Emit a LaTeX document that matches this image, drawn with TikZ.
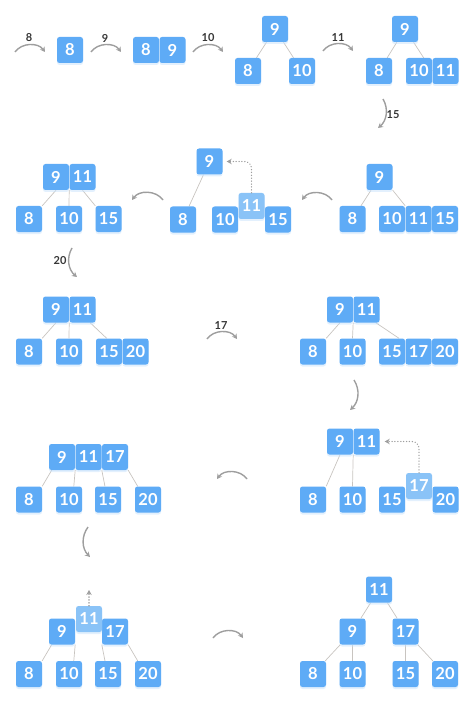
\documentclass[tikz,border=0pt]{standalone}
\usepackage{fontspec}
\setmainfont{Lato}
\usetikzlibrary{arrows.meta,backgrounds,shadows}
\definecolor{keyblue}{RGB}{94,171,246}
\definecolor{keylight}{RGB}{138,195,247}
\definecolor{arcgray}{RGB}{158,158,158}
\definecolor{linkgray}{RGB}{200,196,192}
\definecolor{lblgray}{RGB}{55,55,55}
\tikzset{
  key/.style={fill=keyblue, rounded corners=2.5pt, minimum width=26pt, minimum height=26pt,
    inner sep=0pt, text=white, font=\fontsize{16.5}{16.5}\selectfont\bfseries,
    drop shadow={shadow xshift=0pt, shadow yshift=-2pt, fill=keyblue!35, opacity=0.5}},
  keyup/.style={fill=keylight},
  link/.style={color=linkgray, line width=0.7pt},
  turn/.style={color=arcgray, line width=1.4pt, -{Stealth[length=5pt,width=5.5pt]}},
  hop/.style={color=arcgray, line width=1.4pt, dash pattern=on 0.1pt off 2.8pt, line cap=round,
    rounded corners=7pt, -{Stealth[length=5pt,width=5.5pt]}},
  lbl/.style={text=lblgray, font=\fontsize{11}{11}\selectfont\bfseries}
}
\begin{document}
\begin{tikzpicture}[x=1pt,y=-1pt]
  \useasboundingbox (0,0) rectangle (474,703);
  \draw[every node/.style={key}]
    (70,50) node (a8){8}
    (146,50) node (b8){8}
    (172.5,50) node (b9){9}
    (275,29) node (c9){9}
    (248,71) node (c8){8}
    (302,71) node (c10){10}
    (405,29) node (d9){9}
    (379,71) node (d8){8}
    (419,71) node (d10){10}
    (445.5,71) node (d11){11};
  \draw[every node/.style={key}]
    (379.5,177) node (e9){9}
    (352.5,219) node (e8){8}
    (392,219) node (e10){10}
    (418.5,219) node (e11){11}
    (445,219) node (e15){15}
    (209.5,161.5) node (f9){9}
    (183,219.5) node (f8){8}
    (225,219.5) node (f10){10}
    (278,219.5) node (f15){15}
    (251.5,206) node[keyup] (f11){11}
    (56,177) node (g9){9}
    (82.5,177) node (g11){11}
    (29,219) node (g8){8}
    (69,219) node (g10){10}
    (108.5,219) node (g15){15};
  \draw[every node/.style={key}]
    (56,309.5) node (h9){9}
    (82.5,309.5) node (h11){11}
    (29,351.5) node (h8){8}
    (69,351.5) node (h10){10}
    (109,351.5) node (h15){15}
    (135.5,351.5) node (h20){20}
    (340,309.5) node (i9){9}
    (366.5,309.5) node (i11){11}
    (313,351.5) node (i8){8}
    (352.5,351.5) node (i10){10}
    (392,351.5) node (i15){15}
    (418.5,351.5) node (i17){17}
    (445,351.5) node (i20){20};
  \draw[every node/.style={key}]
    (340,441.5) node (j9){9}
    (366.5,441.5) node (j11){11}
    (313,499.5) node (j8){8}
    (352.5,499.5) node (j10){10}
    (392,499.5) node (j15){15}
    (445.5,499.5) node (j20){20}
    (419,486) node[keyup] (j17){17}
    (62,457) node (k9){9}
    (88.5,457) node (k11){11}
    (115,457) node (k17){17}
    (29,499.5) node (k8){8}
    (69,499.5) node (k10){10}
    (108,499.5) node (k15){15}
    (148,499.5) node (k20){20};
  \draw[every node/.style={key}]
    (62,631.5) node (l9){9}
    (115,631.5) node (l17){17}
    (89,619) node[keyup] (l11){11}
    (29,674) node (l8){8}
    (69,674) node (l10){10}
    (108,674) node (l15){15}
    (148,674) node (l20){20}
    (379,589.5) node (m11){11}
    (352.5,631.5) node (m9){9}
    (405.5,631.5) node (m17){17}
    (313,674) node (m8){8}
    (352.5,674) node (m10){10}
    (405.5,674) node (m15){15}
    (445,674) node (m20){20};
  \draw[every node/.style={lbl}]
    (29,38) node (n8){8}
    (105,38) node (n9){9}
    (208,38) node (n10){10}
    (338,38) node (n11){11}
    (393,115) node (n15){15}
    (60,261) node (n20){20}
    (221,326) node (n17){17};
  \path
    (15,52) coordinate (s1) (45,52) coordinate (t1)
    (91,52) coordinate (s2) (121,52) coordinate (t2)
    (193,52) coordinate (s3) (223,52) coordinate (t3)
    (323,51) coordinate (s4) (353,51) coordinate (t4)
    (383,99) coordinate (s5) (378,128) coordinate (t5)
    (332,200) coordinate (s6) (302,200) coordinate (t6)
    (163,200) coordinate (s7) (132,200) coordinate (t7)
    (72,248) coordinate (s8) (77,277) coordinate (t8)
    (207,339) coordinate (s9) (237,339) coordinate (t9)
    (354,380) coordinate (s10) (350,410) coordinate (t10)
    (247,479) coordinate (s11) (217,479) coordinate (t11)
    (88,527) coordinate (s12) (90,557) coordinate (t12)
    (213,638) coordinate (s13) (243,638) coordinate (t13)
    (89,590) coordinate (l11up);
  \begin{scope}[turn]
    \draw (s1) to[bend left=55] (t1);
    \draw (s2) to[bend left=55] (t2);
    \draw (s3) to[bend left=55] (t3);
    \draw (s4) to[bend left=55] (t4);
    \draw (s5) to[bend left=40] (t5);
    \draw (s6) to[bend right=55] (t6);
    \draw (s7) to[bend right=55] (t7);
    \draw (s8) to[bend right=40] (t8);
    \draw (s9) to[bend left=55] (t9);
    \draw (s10) to[bend left=40] (t10);
    \draw (s11) to[bend right=55] (t11);
    \draw (s12) to[bend right=40] (t12);
    \draw (s13) to[bend left=55] (t13);
  \end{scope}
  \begin{scope}[hop]
    \draw (f11.north) |- ([xshift=4pt]f9.east);
    \draw (j17.north) |- ([xshift=5pt]j11.east);
    \draw (l11.north) -- (l11up);
  \end{scope}
  \begin{scope}[on background layer]
  \begin{scope}[link]
    \draw (c9) to (c8);
    \draw (c9) to (c10);
    \draw (d9) to (d8);
    \draw (d9) to (d10.east);
    \draw (e9) to (e8);
    \draw (e9.south east) to (e10.north east);
    \draw (f9) to (f8);
    \draw (g9.south) to (g8.north east);
    \draw (g9.south east) to (g10.north);
    \draw (g11.south) to (g15.north west);
    \draw (h9.south) to (h8.north east);
    \draw (h9.south east) to (h10.north);
    \draw (h11.-60) to (h15.100);
    \draw (i9.south) to (i8.north east);
    \draw (i9.south east) to (i10.north);
    \draw (i11.-55) to (i15.62);
    \draw (j9.south) to (j8.north east);
    \draw (j9.south east) to (j10.north);
    \draw (k9.-128) to (k8.north east);
    \draw (k9.south east) to (k10.70);
    \draw (k17.south west) to (k15.103);
    \draw (k17.south east) to (k20.128);
    \draw (l9.-128) to (l8.north east);
    \draw (l9.south east) to (l10.70);
    \draw (l17.south west) to (l15.103);
    \draw (l17.south east) to (l20.128);
    \draw (m11) to (m9);
    \draw (m11) to (m17);
    \draw (m9) to (m8);
    \draw (m9) to (m10);
    \draw (m17) to (m15);
    \draw (m17) to (m20);
  \end{scope}
  \end{scope}
\end{tikzpicture}
\end{document}
